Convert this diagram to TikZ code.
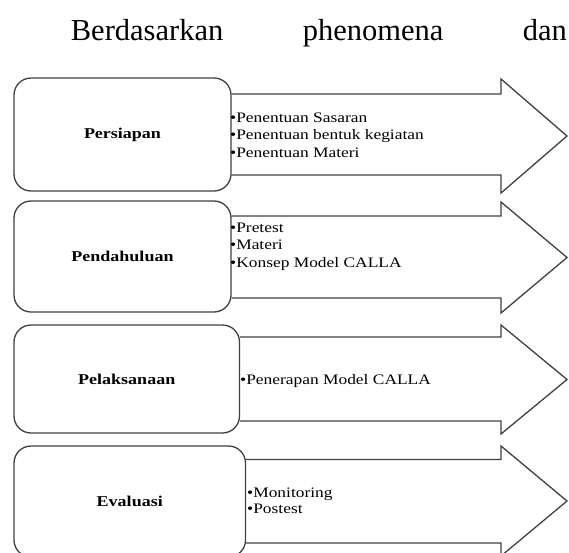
\documentclass[tikz,border=0pt]{standalone}
\usepackage{fontspec}
\setmainfont{Liberation Serif}
\newfontfamily\itemfont[FakeStretch=1.2]{Liberation Serif}
\newfontfamily\labelfont[FakeStretch=1.2]{Liberation Serif}
\usepackage{tikz}
\definecolor{line_gray}{RGB}{64, 64, 64}
\tikzset{
  stagebox/.style = {draw=line_gray, line width=1.3pt, rounded corners=17pt, fill=white,
  inner sep=0pt, text centered, font=\labelfont\bfseries\fontsize{15}{18}\selectfont},
  itembox/.style = {anchor=base west, inner sep=0pt, font=\itemfont\fontsize{14.5}{17}\selectfont},
  stagearrow/.style = {draw=line_gray, line width=1.3pt, line join=miter}
}

\begin{document}
\begin{tikzpicture}[x=1pt, y=-1pt]
        \useasboundingbox (0,0) rectangle (569,552);
        % heading line
        \node [anchor=base west, inner sep=0pt, text width=496pt, align=left,
            font=\fontsize{30.5}{36}\selectfont] (heading) at (70.7,40.7)
            {\noindent Berdasarkan\hfill phenomena\hfill dan};
        % stages
        \node [stagebox, minimum width=217pt, minimum height=113pt] (persiapan) at (122.5,134.5) {Persiapan};
        \node [stagebox, minimum width=217pt, minimum height=111pt] (pendahuluan) at (122.5,256.5) {Pendahuluan};
        \node [stagebox, minimum width=225.5pt, minimum height=108pt] (pelaksanaan) at (126.75,379) {Pelaksanaan};
        \node [stagebox, minimum width=231.5pt, minimum height=111pt] (evaluasi) at (129.75,501.5) {Evaluasi};
        % arrows
        \draw [stagearrow] (persiapan.east |- 0,94) -- (501,94) -- (501,79) -- (567,136)
            -- (501,193) -- (501,175) -- (persiapan.east |- 0,175);
        \draw [stagearrow] (pendahuluan.east |- 0,216) -- (501,216) -- (501,202) -- (567,257.5)
            -- (501,313) -- (501,298) -- (pendahuluan.east |- 0,298);
        \draw [stagearrow] (pelaksanaan.east |- 0,337) -- (501,337) -- (501,325) -- (567,379.5)
            -- (501,434) -- (501,421) -- (pelaksanaan.east |- 0,421);
        \draw [stagearrow] (evaluasi.east |- 0,459.5) -- (501,459.5) -- (501,446) -- (567,501)
            -- (501,556) -- (501,543) -- (evaluasi.east |- 0,543);
        % items
        \node [itembox] (sasaran) at (230,122) {\textbullet Penentuan Sasaran};
        \node [itembox] (bentuk) at (230,139.5) {\textbullet Penentuan bentuk kegiatan};
        \node [itembox] (materi_a) at (230,157) {\textbullet Penentuan Materi};
        \node [itembox] (pretest) at (230,232) {\textbullet Pretest};
        \node [itembox] (materi_b) at (230,249.7) {\textbullet Materi};
        \node [itembox] (konsep) at (230,267) {\textbullet Konsep Model CALLA};
        \node [itembox] (penerapan) at (240,384) {\textbullet Penerapan Model CALLA};
        \node [itembox] (monitoring) at (247,497.3) {\textbullet Monitoring};
        \node [itembox] (postest) at (247,513.3) {\textbullet Postest};
\end{tikzpicture}
\end{document}
